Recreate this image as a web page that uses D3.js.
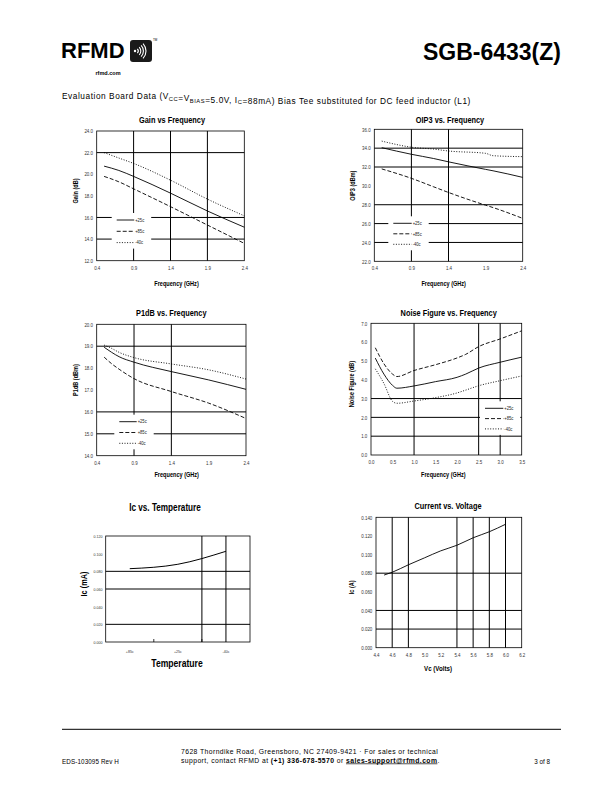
<!DOCTYPE html>
<html>
<head>
<meta charset="utf-8">
<script src="https://cdn.jsdelivr.net/npm/d3@7"></script>
<style>
  body { margin: 0; background: #fff; }
  svg { display: block; }
  text { font-family: "Liberation Sans", Arial, sans-serif; }
</style>
</head>
<body>
<div id="page"></div>
<script>
/*    Chart data    */
/*******************************************/
const tempLabels = ["+25c", "+85c", "-40c"];

// Gain vs Frequency
const gainFreq = [0.5, 0.7, 0.9, 1.4, 1.9, 2.4];
const gain25 = [20.75, 20.35, 19.8, 18.25, 16.6, 15.1];
const gain85 = [19.8, 19.3, 18.65, 17.0, 15.3, 13.6];
const gainM40 = [22.0, 21.5, 21.0, 19.45, 17.7, 16.15];
const gainYTicks = [12, 14, 16, 18, 20, 22, 24];
const gainHGrid = [22, 16, 14];
const gainVGrid = [0.9, 1.4, 1.9];

// OIP3 vs Frequency
const oipFreq = [0.5, 0.9, 1.2, 1.4, 1.9, 2.0, 2.4];
const oip25 = [34.05, 33.35, 32.9, 32.55, 31.75, 31.6, 30.9];
const oip85 = [31.8, 30.8, 29.9, 29.3, 27.95, 27.7, 26.55];
const oipM40 = [34.75, 34.1, 33.9, 33.7, 33.45, 33.2, 33.1];
const oipYTicks = [22, 24, 26, 28, 30, 32, 34, 36];
const oipHGrid = [34, 32, 28, 26, 24];
const oipVGrid = [0.9, 1.4];

// P1dB vs Frequency
const p1Freq = [0.5, 0.6, 0.7, 0.9, 1.4, 1.9, 2.4];
const p125 = [18.95, 18.72, 18.52, 18.27, 17.84, 17.46, 17.03];
const p185 = [18.5, 18.2, 17.95, 17.52, 16.93, 16.4, 15.7];
const p1M40 = [19.05, 18.9, 18.72, 18.48, 18.19, 17.92, 17.5];
const p1YTicks = [14, 15, 16, 17, 18, 19, 20];
const p1HGrid = [19, 16, 15];
const p1VGrid = [0.9, 1.4];

const freqTicks = [0.4, 0.9, 1.4, 1.9, 2.4];

// Noise Figure vs Frequency
const nfFreq = [0.1, 0.3, 0.5, 0.6, 1.0, 1.5, 2.0, 2.2, 2.5, 3.0, 3.5];
const nf25 = [5.15, 4.3, 3.7, 3.55, 3.67, 3.9, 4.13, 4.3, 4.62, 4.93, 5.2];
const nf85 = [5.7, 4.85, 4.3, 4.17, 4.49, 4.8, 5.16, 5.35, 5.76, 6.17, 6.6];
const nfM40 = [4.58, 3.8, 2.85, 2.75, 2.87, 3.05, 3.3, 3.45, 3.68, 3.95, 4.2];
const nfXTicks = [0, 0.5, 1.0, 1.5, 2.0, 2.5, 3.0, 3.5];
const nfYTicks = [0, 1, 2, 3, 4, 5, 6, 7];
const nfHGrid = [3, 2, 1];
const nfVGrid = [1.0, 2.5, 3.0];

// Ic vs Temperature
const icTemps = ["+85c", "+25c", "-40c"];
const icValues = [0.083, 0.088, 0.1027];
const icYTicks = [0, 0.02, 0.04, 0.06, 0.08, 0.10, 0.12];
const icHGrid = [0.08, 0.06, 0.02];

// Current vs Voltage
const cvVolts = [4.5, 4.6, 4.8, 5.0, 5.2, 5.4, 5.6, 5.8, 6.0];
const cvAmps = [0.078, 0.081, 0.089, 0.0965, 0.104, 0.110, 0.118, 0.1245, 0.1325];
const cvXTicks = [4.4, 4.6, 4.8, 5.0, 5.2, 5.4, 5.6, 5.8, 6.0, 6.2];
const cvYTicks = [0, 0.02, 0.04, 0.06, 0.08, 0.10, 0.12, 0.14];
const cvHGrid = [0.08, 0.04, 0.02];
const cvVGrid = [4.6, 4.8, 5.4, 5.6, 5.8, 6.0];

const dashes = [null, "4,2", "1,1.6"];
const NARROW = 0.82;   // squeeze Liberation Sans to look like Arial Narrow

/*    Page container    */
/************************/
const width = 612;
const height = 792;

const svg = d3.select("#page")
  .append("svg")
    .attr("width", width)
    .attr("height", height)
    .attr("viewBox", `0 0 ${width} ${height}`);

svg.append("rect").attr("width", width).attr("height", height).attr("fill", "#fff");

// narrow bold label helper
function narrowText(parent, txt, x, y, size, rotate) {
  return parent.append("text")
    .attr("transform", `translate(${x},${y})${rotate ? " rotate(-90)" : ""} scale(${NARROW},1)`)
    .attr("text-anchor", "middle")
    .attr("font-size", size)
    .attr("font-weight", "bold")
    .text(txt);
}

/*    Header    */
/****************/
svg.append("text")
  .attr("x", 61).attr("y", 58)
  .attr("font-size", 22).attr("font-weight", "bold")
  .text("RFMD");

const logo = svg.append("g").attr("transform", "translate(130,40)");
logo.append("rect").attr("width", 22).attr("height", 22).attr("rx", 3).attr("fill", "#1a1a1a");
logo.append("circle").attr("cx", 5).attr("cy", 11).attr("r", 1.2).attr("fill", "#fff");
[3.2, 5.8, 8.4, 11].forEach(r => {
  logo.append("path")
    .attr("transform", "translate(5,11)")
    .attr("d", d3.arc()({innerRadius: r - 0.55, outerRadius: r + 0.55,
      startAngle: Math.PI / 2 - 0.75, endAngle: Math.PI / 2 + 0.75}))
    .attr("fill", "#fff");
});
svg.append("text").attr("x", 153).attr("y", 41).attr("font-size", 3).text("TM");
svg.append("text").attr("x", 108).attr("y", 75)
  .attr("text-anchor", "middle").attr("font-size", 5.5).attr("font-weight", "bold")
  .text("rfmd.com");

svg.append("text")
  .attr("x", 561).attr("y", 60)
  .attr("text-anchor", "end")
  .attr("font-size", 23).attr("font-weight", "bold")
  .text("SGB-6433(Z)");

const sub = svg.append("text")
  .attr("x", 62).attr("y", 99)
  .attr("font-size", 8.3)
  .attr("letter-spacing", 0.55);
const subParts = [
  ["Evaluation Board Data (V", 0], ["CC", 1], ["=V", 0], ["BIAS", 1],
  ["=5.0V, I", 0], ["C", 1], ["=88mA) Bias Tee substituted for DC feed inductor (L1)", 0]
];
subParts.forEach(([t, s]) => {
  sub.append("tspan")
    .attr("font-size", s ? 5.8 : 8.3)
    .attr("dy", s ? 1.8 : 0)
    .text(t);
  if (s) sub.append("tspan").attr("dy", -1.8).text("");
});

/*    Generic XY panel    */
/**************************/
function styleAxis(a, size) {
  a.select(".domain").remove();
  a.attr("font-size", size);
  a.selectAll("text")
    .attr("fill", "#333")
    .attr("transform", `scale(${NARROW},1)`);
}

function drawPanel(p) {
  const g = svg.append("g");
  const x = d3.scaleLinear().domain(p.xDomain).range([p.left, p.right]);
  const y = d3.scaleLinear().domain(p.yDomain).range([p.bottom, p.top]);

  g.selectAll(".hgrid")
    .data(p.hGrid)
    .join("line")
      .attr("x1", p.left).attr("x2", p.right)
      .attr("y1", d => y(d)).attr("y2", d => y(d))
      .attr("stroke", "#000").attr("stroke-width", 1);

  g.selectAll(".vgrid")
    .data(p.vGrid)
    .join("line")
      .attr("x1", d => x(d)).attr("x2", d => x(d))
      .attr("y1", p.top).attr("y2", p.bottom)
      .attr("stroke", "#000").attr("stroke-width", 1);

  g.append("rect")
    .attr("x", p.left).attr("y", p.top)
    .attr("width", p.right - p.left).attr("height", p.bottom - p.top)
    .attr("fill", "none").attr("stroke", "#000").attr("stroke-width", 0.8);

  // axes
  g.append("g")
    .attr("transform", `translate(0,${p.bottom})`)
    .call(d3.axisBottom(x).tickValues(p.xTicks).tickFormat(d3.format(p.xFmt)).tickSize(0).tickPadding(5))
    .call(a => styleAxis(a, 5.4));

  g.append("g")
    .attr("transform", `translate(${p.left},0)`)
    .call(d3.axisLeft(y).tickValues(p.yTicks).tickFormat(d3.format(p.yFmt)).tickSize(0).tickPadding(4.5))
    .call(a => styleAxis(a, 5.4));

  // series
  const line = xs => d3.line()
    .x((d, i) => x(xs[i]))
    .y(d => y(d))
    .curve(d3.curveMonotoneX);

  g.selectAll(".series")
    .data(p.series)
    .join("path")
      .attr("d", s => line(p.xs)(s))
      .attr("fill", "none")
      .attr("stroke", "#000")
      .attr("stroke-width", 0.9)
      .attr("stroke-dasharray", (s, i) => dashes[i]);

  // legend
  if (p.legend) {
    const L = p.legend;
    const lg = g.append("g").attr("transform", `translate(${L.x},${L.y})`);
    lg.append("rect")
      .attr("x", -5).attr("y", -7)
      .attr("width", L.len + 22).attr("height", L.dy * 2 + 13)
      .attr("fill", "#fff");
    tempLabels.forEach((lab, i) => {
      lg.append("line")
        .attr("x1", 0).attr("x2", L.len)
        .attr("y1", i * L.dy).attr("y2", i * L.dy)
        .attr("stroke", "#000").attr("stroke-width", 0.9)
        .attr("stroke-dasharray", dashes[i]);
      lg.append("text")
        .attr("transform", `translate(${L.len + 1},${i * L.dy + 1.7}) scale(${NARROW},1)`)
        .attr("font-size", 5).attr("fill", "#222")
        .text(lab);
    });
  }

  // titles
  narrowText(g, p.title[0], p.title[1], p.title[2], 9);
  narrowText(g, p.xTitle[0], p.xTitle[1], p.xTitle[2], p.xTitle[3] || 6.8);
  narrowText(g, p.yTitle[0], p.yTitle[1], p.yTitle[2], p.yTitle[3] || 6.8, true)
    .attr("dy", "0.35em");
}

drawPanel({
  left: 96.7, right: 244.3, top: 131, bottom: 260.7,
  xDomain: [0.4, 2.4], yDomain: [12, 24],
  xTicks: freqTicks, yTicks: gainYTicks, xFmt: ".1f", yFmt: ".1f",
  hGrid: gainHGrid, vGrid: gainVGrid,
  xs: gainFreq, series: [gain25, gain85, gainM40],
  legend: {x: 116.7, y: 220, dy: 11.3, len: 17.5},
  title: ["Gain vs Frequency", 172, 123],
  xTitle: ["Frequency (GHz)", 176.5, 285.5],
  yTitle: ["Gain (dB)", 76, 191]
});

drawPanel({
  left: 374.3, right: 522.7, top: 129.3, bottom: 261.3,
  xDomain: [0.4, 2.4], yDomain: [22, 36],
  xTicks: freqTicks, yTicks: oipYTicks, xFmt: ".1f", yFmt: ".1f",
  hGrid: oipHGrid, vGrid: oipVGrid,
  xs: oipFreq, series: [oip25, oip85, oipM40],
  legend: {x: 393.3, y: 223.3, dy: 10.5, len: 18.4},
  title: ["OIP3 vs. Frequency", 450, 122.7],
  xTitle: ["Frequency (GHz)", 443.7, 285.5],
  yTitle: ["OIP3 (dBm)", 352.8, 185.7]
});

drawPanel({
  left: 96.7, right: 246, top: 324.3, bottom: 455.7,
  xDomain: [0.4, 2.4], yDomain: [14, 20],
  xTicks: freqTicks, yTicks: p1YTicks, xFmt: ".1f", yFmt: ".1f",
  hGrid: p1HGrid, vGrid: p1VGrid,
  xs: p1Freq, series: [p125, p185, p1M40],
  legend: {x: 119.3, y: 421.7, dy: 10.8, len: 17.4},
  title: ["P1dB vs. Frequency", 171.3, 316],
  xTitle: ["Frequency (GHz)", 176.7, 477],
  yTitle: ["P1dB (dBm)", 75.8, 380]
});

drawPanel({
  left: 371, right: 521.7, top: 323.3, bottom: 455,
  xDomain: [0, 3.5], yDomain: [0, 7],
  xTicks: nfXTicks, yTicks: nfYTicks, xFmt: ".1f", yFmt: ".1f",
  hGrid: nfHGrid, vGrid: nfVGrid,
  xs: nfFreq, series: [nf25, nf85, nfM40],
  legend: {x: 485, y: 408.3, dy: 10.3, len: 18.3},
  title: ["Noise Figure vs. Frequency", 448.7, 315.5],
  xTitle: ["Frequency (GHz)", 443.3, 476.5],
  yTitle: ["Noise Figure (dB)", 351.7, 384]
});

drawPanel({
  left: 376, right: 521.7, top: 517.3, bottom: 647.7,
  xDomain: [4.4, 6.2], yDomain: [0, 0.14],
  xTicks: cvXTicks, yTicks: cvYTicks, xFmt: ".1f", yFmt: ".3f",
  hGrid: cvHGrid, vGrid: cvVGrid,
  xs: cvVolts, series: [cvAmps],
  title: ["Current vs. Voltage", 448, 509],
  xTitle: ["Vc (Volts)", 438, 671, 7.5],
  yTitle: ["Ic (A)", 351.7, 587.3]
});

/*    Ic vs Temperature (category axis)    */
/*******************************************/
{
  const left = 105.7, right = 250, top = 536, bottom = 642;
  const g = svg.append("g");
  const x = d3.scaleBand().domain(icTemps).range([left, right]);
  const y = d3.scaleLinear().domain([0, 0.12]).range([bottom, top]);
  const last = icTemps[icTemps.length - 1];

  g.selectAll(".hgrid")
    .data(icHGrid)
    .join("line")
      .attr("x1", left).attr("x2", right)
      .attr("y1", d => y(d)).attr("y2", d => y(d))
      .attr("stroke", "#000").attr("stroke-width", 1);

  // vertical lines: boundary before the last category and its centre
  g.selectAll(".vgrid")
    .data([x(last), x(last) + x.bandwidth() / 2])
    .join("line")
      .attr("x1", d => d).attr("x2", d => d)
      .attr("y1", top).attr("y2", bottom)
      .attr("stroke", "#000").attr("stroke-width", 1);

  g.append("rect")
    .attr("x", left).attr("y", top)
    .attr("width", right - left).attr("height", bottom - top)
    .attr("fill", "none").attr("stroke", "#000").attr("stroke-width", 0.8);

  // category tick marks
  g.selectAll(".ctick")
    .data(icTemps.slice(1).map(c => x(c)))
    .join("line")
      .attr("x1", d => d).attr("x2", d => d)
      .attr("y1", bottom).attr("y2", bottom - 3)
      .attr("stroke", "#000").attr("stroke-width", 0.8);

  g.append("g")
    .attr("transform", `translate(0,${bottom})`)
    .call(d3.axisBottom(x).tickSize(0).tickPadding(8))
    .call(a => styleAxis(a, 4.4));

  g.append("g")
    .attr("transform", `translate(${left},0)`)
    .call(d3.axisLeft(y).tickValues(icYTicks).tickFormat(d3.format(".3f")).tickSize(0).tickPadding(4))
    .call(a => styleAxis(a, 4.4));

  g.append("path")
    .datum(icValues)
    .attr("d", d3.line()
      .x((d, i) => x(icTemps[i]) + x.bandwidth() / 2)
      .y(d => y(d))
      .curve(d3.curveMonotoneX))
    .attr("fill", "none").attr("stroke", "#000").attr("stroke-width", 1);

  narrowText(g, "Ic vs. Temperature", 165, 511, 10);
  narrowText(g, "Temperature", 177, 666.5, 10.5);
  narrowText(g, "Ic (mA)", 83.7, 584, 9, true).attr("dy", "0.35em");
}

/*    Footer    */
/****************/
svg.append("line")
  .attr("x1", 62).attr("x2", 561)
  .attr("y1", 729.3).attr("y2", 729.3)
  .attr("stroke", "#000").attr("stroke-width", 1);

svg.append("text")
  .attr("x", 62).attr("y", 763.5).attr("font-size", 6.3)
  .attr("letter-spacing", 0.1)
  .text("EDS-103095 Rev H");

svg.append("text")
  .attr("x", 550).attr("y", 763.5).attr("font-size", 6.3).attr("text-anchor", "end")
  .text("3 of 8");

const addr = svg.append("text")
  .attr("font-size", 6.8).attr("letter-spacing", 0.42);
addr.append("tspan").attr("x", 181).attr("y", 753.5)
  .text("7628 Thorndike Road, Greensboro, NC  27409-9421 · For sales or technical");
const addr2 = addr.append("tspan").attr("x", 181).attr("y", 762.5);
addr2.append("tspan").text("support, contact RFMD at ");
addr2.append("tspan").attr("font-weight", "bold").text("(+1) 336-678-5570");
addr2.append("tspan").text(" or ");
addr2.append("tspan").attr("font-weight", "bold").attr("text-decoration", "underline").text("sales-support@rfmd.com");
addr2.append("tspan").text(".");
</script>
</body>
</html>
